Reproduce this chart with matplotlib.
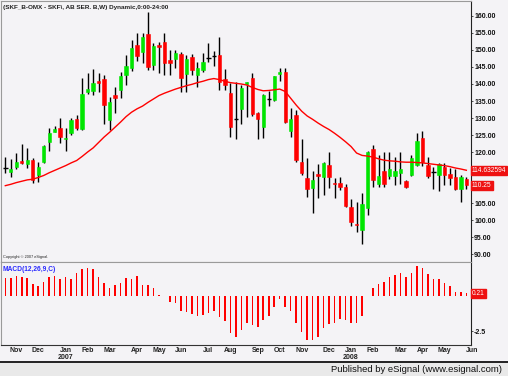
import matplotlib
matplotlib.use('Agg')
import matplotlib.pyplot as plt
import numpy as np
import pandas as pd
from matplotlib.transforms import blended_transform_factory
from matplotlib.patches import Rectangle
from matplotlib.lines import Line2D

plt.rcParams['font.family'] = ['Liberation Sans', 'DejaVu Sans']

# ---------------- data (weekly, SKF B) ----------------
first_week = '2006-10-20'
opens = [115.4, 114.2, 115.5, 117.3, 116.5, 117.6, 113.2, 117.1, 123.0, 126.0,
         127.0, 123.8, 125.5, 129.7, 126.9, 137.6, 137.9, 141.0, 141.5, 129.4,
         136.8, 138.2, 142.6, 144.6, 151.5, 149.3, 154.6, 145.6, 151.5, 152.4,
         147.1, 147.3, 148.7, 142.9, 148.0, 142.6, 144.1, 147.6, 148.3, 148.5,
         141.4, 137.4, 129.7, 132.6, 140.0, 141.7, 131.4, 127.4, 135.6, 135.3,
         143.0, 143.6, 126.3, 130.9, 117.1, 112.3, 109.3, 113.5, 112.7, 116.2,
         110.8, 111.0, 109.6, 103.7, 98.8, 97.1, 103.4, 120.8, 110.6, 114.5,
         112.9, 112.9, 113.9, 111.6, 113.2, 116.2, 124.0, 116.2, 114.1, 113.2,
         115.7, 113.5, 112.7, 109.0, 112.0]
highs = [118.6, 117.8, 119.6, 122.3, 121.1, 118.3, 117.1, 122.1, 127.0, 127.6,
         129.9, 127.0, 129.9, 130.9, 141.7, 143.1, 144.3, 143.1, 142.6, 136.3,
         139.0, 143.6, 148.5, 152.9, 154.9, 154.9, 161.3, 152.0, 152.4, 154.9,
         150.0, 150.0, 149.5, 148.5, 148.7, 146.6, 149.0, 152.0, 149.8, 153.7,
         144.3, 140.2, 140.7, 139.7, 140.7, 143.3, 131.9, 137.1, 138.0, 142.4,
         144.8, 144.8, 132.9, 132.4, 123.7, 118.1, 114.5, 116.5, 117.2, 120.1,
         112.3, 112.6, 110.5, 106.1, 105.4, 107.9, 120.4, 122.1, 119.1, 120.1,
         120.1, 118.5, 120.1, 111.8, 119.2, 125.5, 126.3, 118.6, 115.5, 116.7,
         116.7, 115.2, 114.9, 113.2, 112.7]
lows = [113.9, 112.7, 115.0, 116.4, 115.2, 110.8, 111.1, 116.7, 120.4, 125.8,
        122.6, 120.4, 125.0, 126.5, 126.5, 137.1, 136.8, 137.7, 128.2, 126.5,
        131.6, 135.8, 139.7, 143.8, 146.8, 146.3, 144.1, 144.1, 143.1, 142.6,
        142.6, 144.6, 137.6, 137.6, 142.6, 139.0, 143.6, 146.6, 145.3, 138.2,
        138.2, 124.5, 123.7, 128.2, 130.2, 130.6, 123.7, 124.0, 133.5, 135.1,
        140.9, 128.6, 124.5, 117.2, 113.2, 106.8, 102.1, 106.5, 107.4, 109.3,
        106.5, 108.8, 103.9, 98.2, 96.6, 93.0, 101.5, 109.8, 109.6, 109.8,
        112.0, 110.3, 110.6, 109.5, 112.9, 115.9, 115.9, 112.3, 109.0, 108.5,
        110.3, 110.3, 108.8, 105.4, 109.0]
closes = [115.4, 115.0, 117.1, 116.7, 117.6, 111.8, 115.7, 121.8, 125.5, 126.7,
          124.3, 124.2, 129.4, 127.0, 137.1, 138.5, 140.2, 140.2, 133.8, 134.8,
          135.8, 142.4, 145.3, 150.5, 148.3, 153.9, 145.1, 151.3, 151.0, 146.3,
          146.1, 149.0, 141.7, 147.3, 144.1, 144.6, 146.6, 147.6, 148.3, 140.7,
          139.7, 127.4, 129.7, 138.7, 140.5, 131.2, 129.6, 136.8, 135.6, 142.4,
          143.6, 128.9, 129.6, 117.6, 113.7, 109.0, 111.8, 112.9, 116.7, 112.6,
          110.5, 109.6, 104.1, 99.5, 98.6, 104.7, 120.1, 111.8, 112.9, 110.6,
          114.9, 114.4, 114.9, 109.6, 118.1, 123.3, 117.1, 112.9, 114.1, 116.4,
          113.2, 112.3, 109.0, 112.6, 110.25]
moving_avg = [110.1, 110.5, 111.0, 111.4, 111.8, 112.0, 112.5, 113.1, 113.9, 114.6,
              115.3, 116.0, 116.8, 117.5, 118.7, 120.0, 121.2, 122.8, 124.4, 125.8,
              127.3, 128.8, 130.4, 131.7, 132.7, 133.5, 134.6, 135.6, 136.6, 137.3,
              137.9, 138.5, 139.0, 139.5, 139.9, 140.4, 140.8, 141.3, 141.6, 141.3,
              140.8, 140.4, 140.2, 140.0, 139.7, 139.0, 138.4, 138.0, 138.1, 138.3,
              138.5, 137.8, 135.8, 133.8, 132.0, 130.6, 129.6, 128.5, 127.5, 126.6,
              125.5, 124.3, 123.0, 121.6, 119.7, 119.0, 118.8, 118.5, 118.0, 117.6,
              117.4, 117.3, 117.1, 117.0, 117.0, 116.9, 116.8, 116.6, 116.4, 116.2,
              116.0, 115.7, 115.3, 115.0, 114.632594]
macd_hist = [1.33, 1.33, 1.45, 1.38, 1.33, 0.88, 0.74, 1.05, 1.38, 1.45,
             1.24, 1.38, 1.22, 1.69, 1.93, 2.05, 1.95, 1.38, 0.98, 0.62,
             0.81, 0.98, 1.29, 1.24, 1.45, 0.81, 0.81, 0.62, 0.10, 0.03,
             -0.38, -0.45, -1.05, -1.10, -1.29, -1.40, -1.33, -1.21, -1.05, -1.50,
             -1.74, -2.64, -2.93, -2.43, -1.93, -2.05, -2.17, -1.69, -1.40, -0.74,
             -0.21, -0.74, -1.02, -1.88, -2.52, -3.12, -3.12, -2.88, -2.29, -2.00,
             -1.88, -1.64, -1.69, -1.93, -1.93, -1.38, 0.02, 0.57, 0.90, 1.05,
             1.40, 1.52, 1.64, 1.38, 1.69, 2.19, 2.05, 1.57, 1.24, 1.24,
             0.93, 0.74, 0.33, 0.33, 0.21]
price_ticks = [90, 95, 100, 105, 110, 115, 120, 125, 130, 135, 140, 145, 150, 155, 160]
macd_ticks = [-2.5]
title = '(SKF_B-OMX - SKF\\, AB SER. B,W) Dynamic,0:00-24:00'

# ---------------- figure layout ----------------
W, H = 508, 376
BG = '#f4f3f6'
fig = plt.figure(figsize=(W / 100, H / 100), dpi=100, facecolor=BG)

def fx(px):
    return px / W

def fy(py):
    return 1 - py / H

ax = fig.add_axes([0.002, fy(262), fx(471) - 0.002, (262 - 1) / H], facecolor=BG)
ax2 = fig.add_axes([0.002, fy(345), fx(471) - 0.002, (345 - 262) / H], facecolor=BG)

o = np.array(opens); h = np.array(highs); l = np.array(lows); c = np.array(closes)
x = np.arange(len(c))
up = c > o
flat = c == o

# wicks
ax.vlines(x, l, h, color='black', lw=1.0, zorder=2)
# bodies
bottoms = np.minimum(o, c)
heights = np.abs(c - o)
cols = np.where(up, '#00e600', '#ff0000')
mask = ~flat
ax.bar(x[mask], heights[mask], bottom=bottoms[mask], width=0.62,
       color=cols[mask], edgecolor=cols[mask], linewidth=0.4, zorder=3)
ax.hlines(o[flat], x[flat] - 0.4, x[flat] + 0.4, color='black', lw=1.0, zorder=3)
# moving average
ax.plot(x, moving_avg, color='#ff0000', lw=1.0, zorder=4)

xl = (-0.782, 84.85)
ax.set_xlim(*xl)
ax.set_ylim(87.65, 164.41)
ax.set_xticks([])
ax.yaxis.tick_right()
# the two value boxes cover the tick labels next to them, as in the original
boxed = [moving_avg[-1], closes[-1]]
shown = [t for t in price_ticks if min(abs(t - b) for b in boxed) > 1.6]
ax.set_yticks(shown)
ax.set_yticklabels(['%.2f' % v for v in shown], fontsize=5, fontweight='bold', color='#111111')
ax.tick_params(axis='y', length=1.5, width=0.6, pad=0.8, color='#333333')

for name, sp in ax.spines.items():
    sp.set_linewidth(0.8)
    sp.set_color('#9a9a9a')
ax.spines['right'].set_color('#222222')

ax.text(0.004, 0.985, title, transform=ax.transAxes, fontsize=4.6, fontweight='bold',
        color='#222222', ha='left', va='top')
ax.text(0.004, 0.012, 'Copyright \u00a9 2007 eSignal.', transform=ax.transAxes,
        fontsize=2.8, color='#222222', ha='left', va='bottom')

# price boxes on right axis
bt = blended_transform_factory(ax.transAxes, ax.transData)
ax.text(1.002, moving_avg[-1], '%.6f' % moving_avg[-1], transform=bt, fontsize=4.8,
        color='white', ha='left', va='center', clip_on=False,
        bbox=dict(boxstyle='square,pad=0.15', fc='#ee1111', ec='#ee1111'))
ax.text(1.002, closes[-1], '%.2f' % closes[-1], transform=bt, fontsize=4.8,
        color='white', ha='left', va='center', clip_on=False,
        bbox=dict(boxstyle='square,pad=0.15', fc='#ee1111', ec='#ee1111'))

# ---------------- MACD panel ----------------
ax2.bar(x, macd_hist, width=0.28, color='#ff0000', zorder=3)
ax2.set_xlim(*xl)
ax2.set_ylim(-3.48, 2.45)
ax2.set_xticks([])
ax2.yaxis.tick_right()
ax2.set_yticks(macd_ticks)
ax2.set_yticklabels(['%.1f' % v for v in macd_ticks], fontsize=5, fontweight='bold', color='#111111')
ax2.tick_params(axis='y', length=1.5, width=0.6, pad=0.8, color='#333333')
for name, sp in ax2.spines.items():
    sp.set_linewidth(0.8)
    sp.set_color('#9a9a9a')
ax2.spines['right'].set_color('#222222')
ax2.spines['bottom'].set_color('#333333')
ax2.text(0.004, 0.95, 'MACD(12,26,9,C)', transform=ax2.transAxes, fontsize=4.8,
         fontweight='bold', color='#2a2aff', ha='left', va='top')
bt2 = blended_transform_factory(ax2.transAxes, ax2.transData)
ax2.text(1.002, macd_hist[-1], '%.2f' % macd_hist[-1], transform=bt2, fontsize=4.8,
         color='white', ha='left', va='center', clip_on=False,
         bbox=dict(boxstyle='square,pad=0.15', fc='#ee1111', ec='#ee1111'))

# ---------------- month / year labels from dates ----------------
weeks = pd.date_range(first_week, periods=len(c) + 1, freq='W-FRI')
tb = blended_transform_factory(ax2.transData, fig.transFigure)
for i in range(1, len(weeks)):
    d = weeks[i]
    if d.month != weeks[i - 1].month:
        fig.text(i, fy(350), d.strftime('%b'), transform=tb, fontsize=5,
                 fontweight='bold', color='#222222', ha='center', va='center')
        if d.month == 1:
            fig.text(i, fy(357.5), str(d.year), transform=tb, fontsize=5,
                     fontweight='bold', color='#222222', ha='center', va='center')

# ---------------- footer ----------------
fig.patches.append(Rectangle((0, 0), 1, 14 / H, transform=fig.transFigure,
                             facecolor='#e9e9e9', edgecolor='none', zorder=0))
fig.lines.append(Line2D([0, 1], [14 / H, 14 / H], transform=fig.transFigure,
                        color='#111111', lw=1.3))
fig.text(fx(502), fy(369), 'Published by eSignal (www.esignal.com)', fontsize=6.8,
         color='#111111', ha='right', va='center')

fig.savefig('out.png', dpi=100, facecolor=BG)
